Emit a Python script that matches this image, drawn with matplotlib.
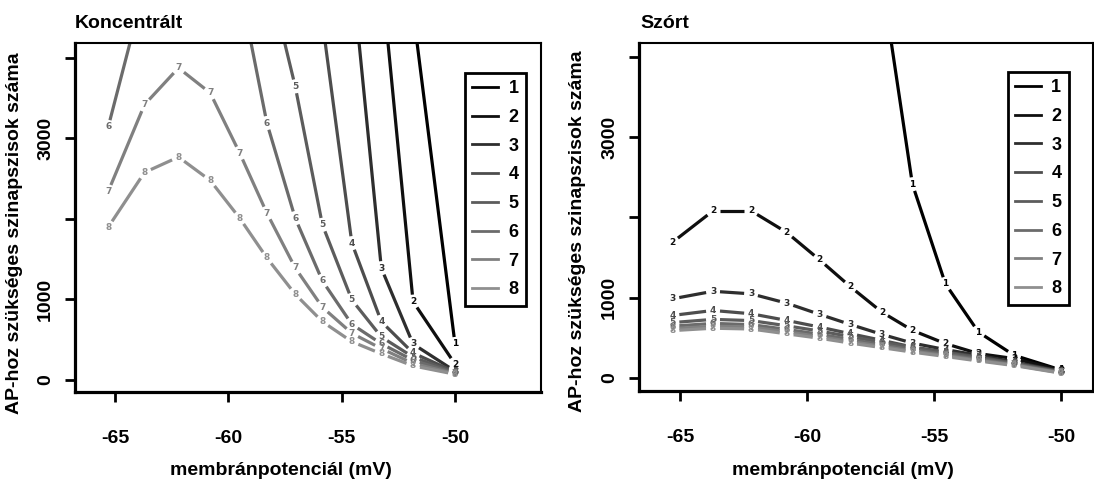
import numpy as np
import matplotlib
matplotlib.use("Agg")
import matplotlib.pyplot as plt
from matplotlib.lines import Line2D

plt.rcParams['font.family'] = ['Liberation Sans', 'DejaVu Sans']
plt.rcParams['font.weight'] = 'bold'

# membrane potential of the sample points (mV)
mv = [-65.3, -63.7, -62.2, -60.8, -59.5, -58.3, -57.05, -55.85, -54.55, -53.25, -51.85, -50.0]

# "Koncentrált" panel, one list per curve (values above the frame are estimates)
konc_1 = [60000, 50000, 42000, 35000, 28000, 22000, 17000, 13000, 9500, 6800, 4580, 442]
konc_2 = [40000, 33000, 27000, 22000, 18000, 14000, 11000, 8500, 7000, 5040, 969, 193]
konc_3 = [30000, 25000, 21000, 17000, 14000, 11500, 9000, 7000, 5090, 1385, 442, 105]
konc_4 = [15000, 16000, 15500, 14000, 12000, 9500, 6800, 4450, 1696, 720, 330, 95]
konc_5 = [4700, 7200, 8300, 8000, 7000, 5100, 3646, 1924, 990, 530, 280, 85]
konc_6 = [3141, 4880, 5700, 5500, 4900, 3190, 2007, 1227, 687, 445, 240, 78]
konc_7 = [2339, 3418, 3875, 3564, 2817, 2070, 1389, 899, 575, 385, 200, 72]
konc_8 = [1895, 2575, 2767, 2476, 2007, 1513, 1061, 720, 471, 320, 170, 66]

# "Szórt" panel
szort_1 = [40000, 32000, 25000, 19000, 14000, 9000, 4960, 2413, 1172, 572, 283, 100]
szort_2 = [1689, 2082, 2082, 1813, 1470, 1139, 820, 593, 428, 304, 242, 97]
szort_3 = [986, 1080, 1048, 932, 792, 667, 543, 435, 354, 283, 200, 85]
szort_4 = [779, 841, 800, 717, 634, 552, 469, 386, 324, 262, 187, 80]
szort_5 = [690, 730, 715, 650, 585, 515, 445, 380, 315, 250, 180, 72]
szort_6 = [645, 680, 665, 605, 545, 480, 415, 355, 295, 235, 170, 68]
szort_7 = [615, 645, 635, 575, 515, 455, 395, 335, 280, 222, 162, 64]
szort_8 = [590, 620, 610, 550, 495, 435, 378, 322, 268, 212, 155, 60]

curve_names = ['1', '2', '3', '4', '5', '6', '7', '8']
konc = [konc_1, konc_2, konc_3, konc_4, konc_5, konc_6, konc_7, konc_8]
szort = [szort_1, szort_2, szort_3, szort_4, szort_5, szort_6, szort_7, szort_8]

y_ticks = [0, 1000, 2000, 3000, 4000]
y_tick_labels = ['0', '1000', '', '3000', '']
x_ticks = [-65, -60, -55, -50]

greys = [str(g) for g in [0.0, 0.06, 0.18, 0.3, 0.36, 0.42, 0.5, 0.56]]
GAP = 7  # px gap around each point label, like R type="b"

W, H = 1094, 486
fig = plt.figure(figsize=(W / 100, H / 100), dpi=100)


def px_axes(x0, x1, y0, y1):
    return fig.add_axes([x0 / W, 1 - y1 / H, (x1 - x0) / W, (y1 - y0) / H])


def draw_curve(ax, xs, ys, label, color):
    pts = ax.transData.transform(np.column_stack([xs, ys]))
    inv = ax.transData.inverted()
    for p0, p1 in zip(pts[:-1], pts[1:]):
        d = p1 - p0
        seg = np.hypot(d[0], d[1])
        if seg <= 2 * GAP:
            continue
        u = d / seg
        a = inv.transform(p0 + u * GAP)
        b = inv.transform(p1 - u * GAP)
        ax.plot([a[0], b[0]], [a[1], b[1]], color=color, lw=2.3,
                solid_capstyle='butt')
    top = ax.get_ylim()[1]
    for x, y in zip(xs, ys):
        if y > top:
            continue
        ax.text(x, y, label, color=color, fontsize=6.5, fontweight='bold',
                ha='center', va='center', family='DejaVu Sans')


def setup(ax, xlim, ylim):
    ax.set_xlim(*xlim)
    ax.set_ylim(*ylim)
    ax.set_xticks(x_ticks)
    ax.set_xticklabels([str(t) for t in x_ticks])
    ax.set_yticks(y_ticks)
    ax.set_yticklabels(y_tick_labels, rotation=90, va='center')
    ax.tick_params(axis='both', direction='out', length=7, width=2, labelsize=14)
    ax.tick_params(axis='x', pad=20)
    ax.tick_params(axis='y', pad=8)
    for s in ax.spines.values():
        s.set_linewidth(1.5)
    ax.spines['left'].set_linewidth(2.3)
    ax.spines['bottom'].set_linewidth(2.3)


def legend(ax, anchor):
    handles = [Line2D([], [], color=c, lw=2) for c in greys]
    leg = ax.legend(handles, curve_names, loc='upper left', bbox_to_anchor=anchor,
                    frameon=True, fancybox=False, framealpha=1, edgecolor='black',
                    prop={'size': 13, 'weight': 'bold'}, labelspacing=0.65,
                    handlelength=1.4, handletextpad=0.6, borderpad=0.4,
                    borderaxespad=0)
    leg.get_frame().set_linewidth(2)


ax1 = px_axes(75, 541, 43, 392)
setup(ax1, (-66.765, -46.206), (-155, 4185))
for vals, name, col in zip(konc, curve_names, greys):
    draw_curve(ax1, mv, vals, name, col)
legend(ax1, (0.837, 0.914))

ax2 = px_axes(639, 1093, 43, 391)
setup(ax2, (-66.614, -48.74), (-162, 4172))
for vals, name, col in zip(szort, curve_names, greys):
    draw_curve(ax2, mv, vals, name, col)
legend(ax2, (0.8128, 0.9167))

fig.text(75 / W, 1 - 24 / H, 'Koncentrált', fontsize=14, fontweight='bold',
         ha='left', va='center')
fig.text(640 / W, 1 - 24 / H, 'Szórt', fontsize=14, fontweight='bold',
         ha='left', va='center')
ylab = 'AP-hoz szükséges szinapszisok száma'
fig.text(15 / W, 1 - 233 / H, ylab, rotation=90, fontsize=14, fontweight='bold',
         ha='center', va='center')
fig.text(578 / W, 1 - 231 / H, ylab, rotation=90, fontsize=14, fontweight='bold',
         ha='center', va='center')
xlab = 'membránpotenciál (mV)'
fig.text(281 / W, 1 - 470 / H, xlab, fontsize=14, fontweight='bold',
         ha='center', va='center')
fig.text(843 / W, 1 - 470 / H, xlab, fontsize=14, fontweight='bold',
         ha='center', va='center')

fig.savefig('out.png', dpi=100)
